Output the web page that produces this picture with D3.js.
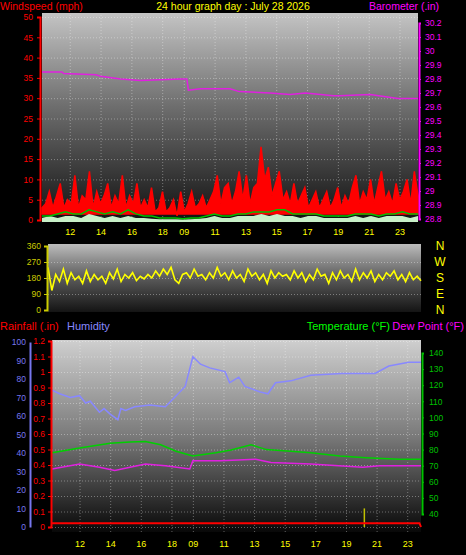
<!DOCTYPE html>
<html lang="en">
<head>
<meta charset="UTF-8">
<title>24 hour graph</title>
<script src="https://d3js.org/d3.v7.min.js"></script>
<style>
  body{ margin:0; background:#000; }
  svg{ display:block; }
  text{ font-family:"Liberation Sans", Arial, sans-serif; }
  .grid line{ stroke:#fff; stroke-opacity:.35; stroke-dasharray:1 2; }
  .grid path{ display:none; }
  .ax path{ stroke-width:2; }
</style>
</head>
<body>
<svg id="chart" width="466" height="555"></svg>
<script>
// hour labels on the shared time axis (t = hours since start)
const hourLabels = ["12","14","16","18","09","11","13","15","17","19","21","23"]
const hourPos    = [1.8, 3.8, 5.8, 7.8, 9.2, 11.2, 13.2, 15.2, 17.2, 19.2, 21.2, 23.2]

// wind gust (mph), evenly sampled over the 24.4 h
const gust = [3,4,7,3,6,9,3,5,4,11,3,6,5,12,3,7,4,6,9,3,6,4,11,3,6,4,9,3,5,3,8,2,3,7,2,3,5,1,
  7,2,4,7,3,4,6,3,5,7,11,4,8,9,4,7,12,5,11,4,8,9,18,10,13,6,9,12,5,7,4,9,4,6,8,3,5,7,3,5,7,3,
  5,8,3,6,4,8,11,4,7,5,10,4,8,12,5,7,4,9,5,7,10,4,12,6]
const gustBase = 1.5
// average wind (mph), every 30 min
const windAvg = [1,1,1.5,2,1.5,1.5,2.5,2,1.5,2,1.5,2.5,1.5,1,1,0.5,0.5,0.5,0.3,0.5,0.5,1,1.5,1,1,
  1.5,1.5,2,2,2,2.5,2.5,1.5,1.5,1.5,1.5,1,1,1,1,1.5,1.5,1.5,1,1.5,1.5,2,1.5,1.5]
const windSpeed = [0.5,1,0.5,1,1,0.5,1.5,1,0.5,1,0.5,1,0.5,0.5,0.3,0.2,0.2,0.2,0.1,0.2,0.3,0.5,1,0.5,0.5,
  1,1,1,1.5,1,1.5,1,1,0.5,1,1,0.5,0.5,0.5,0.5,1,0.5,1,0.5,1,1,1,0.5,1]

// barometer (in)
const baroTime  = [0, 1.3, 1.4, 3.5, 3.8, 5.1, 6.4, 9.0, 9.4, 9.5, 10.3, 12.2, 12.8, 14.8, 16.1, 17.1, 18.9, 19.3, 21.3, 23.1, 24.4]
const baroValue = [29.85, 29.85, 29.84, 29.83, 29.82, 29.80, 29.79, 29.80, 29.80, 29.72, 29.73, 29.73, 29.71, 29.70, 29.69, 29.70, 29.68, 29.68, 29.69, 29.66, 29.66]

// wind direction (deg), every 15 min
const windDir = [240,110,200,160,230,150,210,170,190,150,220,160,200,170,190,150,210,175,230,160,200,180,210,165,
  190,175,200,180,220,190,230,200,240,170,150,200,210,180,230,190,200,170,210,180,240,190,210,170,220,180,
  200,160,230,190,210,170,200,150,220,180,210,190,200,170,220,180,210,160,200,170,230,190,200,150,210,170,
  220,180,200,160,230,170,210,180,220,160,200,170,210,190,220,170,200,160,210,170,190,165]

// humidity (%), temperature / dew point (F), rainfall (in)
const humTime  = [0, 0.5, 1.2, 1.8, 2.2, 2.5, 3.1, 3.4, 3.8, 4.3, 4.5, 4.8, 5.4, 6.4, 7.4, 8.0, 8.7, 9.2, 9.7, 10.3, 11.3, 11.6, 12.2, 12.6, 13.6, 14.1, 14.6, 15.6, 16.9, 18.9, 19.9, 21.1, 22.0, 23.3, 24.1]
const humValue = [74, 72, 70, 71, 67, 68, 62, 64, 61, 58, 64, 63, 65, 66, 65, 70, 76, 92, 88, 86, 84, 78, 81, 76, 73, 72, 78, 79, 82, 83, 83, 83, 87, 89, 89]
const tempTime  = [0, 1.8, 3.8, 5.1, 6.1, 7.1, 8.1, 9.2, 10.7, 11.7, 13.0, 14.0, 15.6, 16.9, 18.8, 20.5, 22.7, 24.1]
const tempValue = [78, 81, 84, 84.7, 85, 83, 79, 76, 78, 79.7, 83, 80, 79, 78, 76, 75, 74, 74]
const dewTime  = [0, 1.8, 3.1, 4.1, 5.1, 6.1, 7.4, 9.0, 9.2, 11.0, 13.3, 14.3, 16.9, 20.3, 21.4, 24.1]
const dewValue = [68, 71, 69, 67, 69, 71, 70, 68, 73, 73, 74, 72, 71, 69, 70, 70]
const rainTime  = [0, 24.0, 24.1]
const rainValue = [0.025, 0.025, 0]
const rainRateTime = 20.4, rainRateValue = 0.12

const svg = d3.select("#chart")
const defs = svg.append("defs")
function grad(id, stops) {
  const g = defs.append("linearGradient").attr("id", id).attr("x1",0).attr("x2",0).attr("y1",0).attr("y2",1)
  stops.forEach(s => g.append("stop").attr("offset", s[0]).attr("stop-color", s[1]))
}
grad("bg1", [[0,"#c4c4c4"],[0.45,"#6e6e6e"],[1,"#121212"]])
grad("bg2", [[0,"#bcbcbc"],[0.5,"#5a5a5a"],[1,"#141414"]])
grad("bg3", [[0,"#cfcfcf"],[0.5,"#7a7a7a"],[1,"#080808"]])

function label(x, y, txt, color, anchor, size) {
  svg.append("text").attr("x", x).attr("y", y).attr("fill", color)
    .attr("text-anchor", anchor || "start").attr("font-size", size || 11).text(txt)
}
function styleAxis(g, color) {
  g.attr("class", "ax").attr("font-size", 8.5)
  g.selectAll("path,line").attr("stroke", color)
  g.selectAll("text").attr("fill", color)
}
function timeAxis(x, y0, yTop) {
  svg.append("g").attr("class", "grid").attr("transform", `translate(0,${y0})`)
    .call(d3.axisBottom(x).tickValues(hourPos).tickSize(-(y0 - yTop)).tickFormat(""))
  const a = svg.append("g").attr("transform", `translate(0,${y0})`)
    .call(d3.axisBottom(x).tickValues(hourPos).tickSize(0).tickPadding(9).tickFormat((d, i) => hourLabels[i]))
  a.select("path").remove()
  a.selectAll("text").attr("fill", "#ffff00").attr("font-size", 9)
}
const step = arr => 24.4 / (arr.length - 1)

// ---------- panel 1: wind + barometer ----------
const x1 = d3.scaleLinear().domain([0, 24.4]).range([42, 418])
const yW = d3.scaleLinear().domain([0, 50]).range([220, 17])
const yB = d3.scaleLinear().domain([28.8, 30.2]).range([219, 23])
svg.append("rect").attr("x", 42).attr("y", 13).attr("width", 376).attr("height", 207).attr("fill", "url(#bg1)")
svg.append("g").attr("class", "grid").attr("transform", "translate(42,0)")
  .call(d3.axisLeft(yW).ticks(10).tickSize(-376).tickFormat(""))
timeAxis(x1, 220, 13)

svg.append("path").datum(gust)
  .attr("fill", "#ff0000").attr("stroke", "#ff0000").attr("stroke-width", 1.5)
  .attr("d", d3.area().x((d, i) => x1(i * step(gust))).y0(yW(gustBase)).y1(d => yW(d)))
svg.append("path").datum(windSpeed)
  .attr("fill", "#c8f0c8")
  .attr("d", d3.area().x((d, i) => x1(i * step(windSpeed))).y0(yW(-0.5)).y1(d => yW(d)))
svg.append("path").datum(windAvg)
  .attr("fill", "none").attr("stroke", "#00c000").attr("stroke-width", 1.5)
  .attr("d", d3.line().x((d, i) => x1(i * step(windAvg))).y(d => yW(d)))
svg.append("path").datum(baroValue)
  .attr("fill", "none").attr("stroke", "#e020e0").attr("stroke-width", 1.5)
  .attr("d", d3.line().x((d, i) => x1(baroTime[i])).y(d => yB(d)))

styleAxis(svg.append("g").attr("transform", "translate(40,0)")
  .call(d3.axisLeft(yW).ticks(10).tickSize(3).tickPadding(4)), "#ff0000")
styleAxis(svg.append("g").attr("transform", "translate(419,0)")
  .call(d3.axisRight(yB).ticks(14).tickSize(2).tickPadding(4).tickFormat(d3.format("~g"))), "#ff00ff")
label(0, 10, "Windspeed (mph)", "#ff0000", "start", 10.5)
label(233, 10, "24 hour graph day : July 28 2026", "#ffff00", "middle", 10.5)
label(439, 10, "Barometer (.in)", "#ff00ff", "end", 10.5)

// ---------- panel 2: wind direction ----------
const x2 = d3.scaleLinear().domain([0, 24.4]).range([48, 421])
const yD = d3.scaleLinear().domain([0, 360]).range([310, 246])
svg.append("rect").attr("x", 48).attr("y", 244).attr("width", 373).attr("height", 68).attr("fill", "url(#bg2)")
svg.append("g").attr("class", "grid").attr("transform", "translate(48,0)")
  .call(d3.axisLeft(yD).tickValues([90, 180, 270]).tickSize(-373).tickFormat(""))
svg.append("path").datum(windDir)
  .attr("fill", "none").attr("stroke", "#ffff00").attr("stroke-width", 1.6)
  .attr("d", d3.line().x((d, i) => x2(i * step(windDir))).y(d => yD(d)))
styleAxis(svg.append("g").attr("transform", "translate(47,0)")
  .call(d3.axisLeft(yD).tickValues([0, 90, 180, 270, 360]).tickSize(3).tickPadding(3)), "#cccc00")
const compass = ["N", "W", "S", "E", "N"]
compass.forEach((c, i) => label(440, yD(360 - i * 90) + 4, c, "#ffff00", "middle", 12))

// ---------- panel 3: rain, humidity, temperature, dew point ----------
const x3 = d3.scaleLinear().domain([0, 24.1]).range([52, 421])
const yH = d3.scaleLinear().domain([0, 100]).range([527, 342])
const yR = d3.scaleLinear().domain([0, 1.2]).range([527, 341])
const yT = d3.scaleLinear().domain([40, 140]).range([514, 353])
svg.append("rect").attr("x", 52).attr("y", 340).attr("width", 369).attr("height", 192).attr("fill", "url(#bg3)")
svg.append("g").attr("class", "grid").attr("transform", "translate(52,0)")
  .call(d3.axisLeft(yR).ticks(12).tickSize(-369).tickFormat(""))
timeAxis(x3, 532, 340)

svg.append("path").datum(humValue)
  .attr("fill", "none").attr("stroke", "#8888ff").attr("stroke-width", 1.5)
  .attr("d", d3.line().x((d, i) => x3(humTime[i])).y(d => yH(d)))
svg.append("path").datum(tempValue)
  .attr("fill", "none").attr("stroke", "#00d000").attr("stroke-width", 1.5)
  .attr("d", d3.line().x((d, i) => x3(tempTime[i])).y(d => yT(d)))
svg.append("path").datum(dewValue)
  .attr("fill", "none").attr("stroke", "#e020e0").attr("stroke-width", 1.5)
  .attr("d", d3.line().x((d, i) => x3(dewTime[i])).y(d => yT(d)))
svg.append("line").attr("x1", x3(rainRateTime)).attr("x2", x3(rainRateTime))
  .attr("y1", yR(0)).attr("y2", yR(rainRateValue)).attr("stroke", "#c0c000").attr("stroke-width", 1.5)
svg.append("path").datum(rainValue)
  .attr("fill", "none").attr("stroke", "#ff0000").attr("stroke-width", 2)
  .attr("d", d3.line().x((d, i) => x3(rainTime[i])).y(d => yR(d)))

styleAxis(svg.append("g").attr("transform", "translate(30,0)")
  .call(d3.axisLeft(yH).ticks(10).tickSize(0).tickPadding(4)), "#7777ee")
styleAxis(svg.append("g").attr("transform", "translate(51,0)")
  .call(d3.axisLeft(yR).ticks(12).tickSize(3).tickPadding(3).tickFormat(d3.format("~g"))), "#ff0000")
styleAxis(svg.append("g").attr("transform", "translate(422,0)")
  .call(d3.axisRight(yT).ticks(10).tickSize(2).tickPadding(5)), "#00c000")
label(0, 330, "Rainfall (.in)", "#ff0000")
label(67, 330, "Humidity", "#8888ff")
label(390, 330, "Temperature (°F)", "#00ff00", "end")
label(464, 330, "Dew Point (°F)", "#ff00ff", "end")
</script>
</body>
</html>
